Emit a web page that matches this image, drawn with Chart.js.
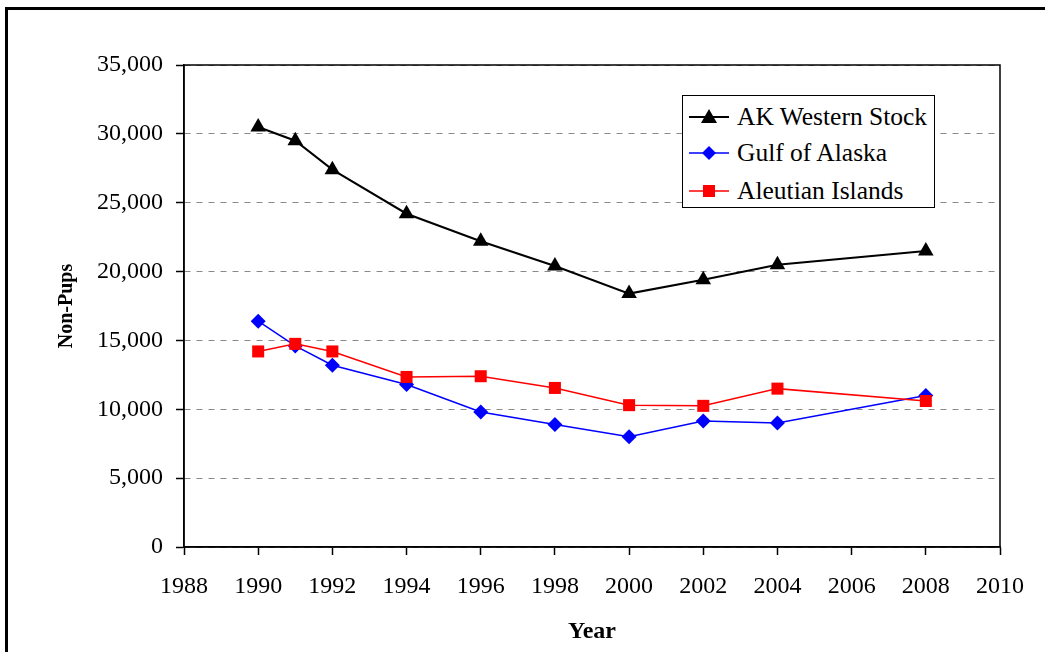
<!DOCTYPE html>
<html>
<head>
<meta charset="utf-8">
<script src="https://cdn.jsdelivr.net/npm/chart.js@4/dist/chart.umd.min.js"></script>
<style>
  html, body { margin: 0; padding: 0; background: #fff; }
  #wrap { position: relative; width: 1045px; height: 652px; overflow: hidden; }
  #frame { position: absolute; left: 5px; top: 7px; width: 1100px; height: 700px;
    border-left: 3px solid #000; border-top: 3px solid #000; }
  #chart { position: absolute; left: 0; top: 0; }
  #legend { position: absolute; left: 682px; top: 95px; width: 251px; height: 111px;
    border: 1.5px solid #000; background: #fff; font-family: "Liberation Serif", serif;
    font-size: 25.5px; color: #000; }
  .row { position: absolute; left: 6px; height: 30px; display: flex; align-items: center; }
  .row svg { margin-right: 8px; }
</style>
</head>
<body>
<div id="wrap">
  <div id="frame"></div>
  <canvas id="chart" width="1045" height="652"></canvas>
  <div id="legend">
    <div class="row" style="top:6px">
      <svg width="40" height="20"><line x1="0" y1="10" x2="40" y2="10" stroke="#000" stroke-width="2"/><polygon points="20,2 28,16 12,16" fill="#000"/></svg>AK Western Stock</div>
    <div class="row" style="top:42px">
      <svg width="40" height="20"><line x1="0" y1="10" x2="40" y2="10" stroke="#0000ff" stroke-width="1.5"/><polygon points="20,3 27,10 20,17 13,10" fill="#0000ff"/></svg>Gulf of Alaska</div>
    <div class="row" style="top:80px">
      <svg width="40" height="20"><line x1="0" y1="10" x2="40" y2="10" stroke="#ff0000" stroke-width="1.5"/><rect x="14" y="4" width="12" height="12" fill="#ff0000"/></svg>Aleutian Islands</div>
  </div>
</div>
<script>
const years = [1990, 1991, 1992, 1994, 1996, 1998, 2000, 2002, 2004, 2008]
const akWestern = [30500, 29500, 27400, 24200, 22200, 20400, 18400, 19400, 20500, 21500]
const gulfOfAlaska = [16400, 14600, 13200, 11800, 9800, 8900, 8000, 9150, 9000, 11000]
const aleutian = [14200, 14750, 14200, 12350, 12400, 11550, 10300, 10250, 11500, 10600]

const toPoints = (vals) => years.map((yr, i) => ({ x: yr, y: vals[i] }))

const serif = 'Liberation Serif'

// box around the plot area
const plotBox = {
    id: 'plotBox',
    afterDatasetsDraw(chart) {
        const a = chart.chartArea
        const ctx = chart.ctx
        ctx.save()
        ctx.strokeStyle = '#000'
        ctx.lineWidth = 1.5
        ctx.strokeRect(a.left, a.top, a.right - a.left, a.bottom - a.top)
        ctx.restore()
    }
}

new Chart(document.getElementById('chart').getContext('2d'), {
    type: 'line',
    plugins: [plotBox],
    data: {
        datasets: [{
                label: 'AK Western Stock',
                data: toPoints(akWestern),
                borderColor: '#000',
                backgroundColor: '#000',
                borderWidth: 2,
                pointStyle: 'triangle',
                pointRadius: 9,
                pointBorderWidth: 0,
                order: 0
            },
            {
                label: 'Aleutian Islands',
                data: toPoints(aleutian),
                borderColor: '#ff0000',
                backgroundColor: '#ff0000',
                borderWidth: 1.5,
                pointStyle: 'rect',
                pointRadius: 8.5,
                pointBorderWidth: 0,
                order: 1
            },
            {
                label: 'Gulf of Alaska',
                data: toPoints(gulfOfAlaska),
                borderColor: '#0000ff',
                backgroundColor: '#0000ff',
                borderWidth: 1.5,
                pointStyle: 'rectRot',
                pointRadius: 7.5,
                pointBorderWidth: 0,
                order: 2
            }
        ]
    },
    options: {
        responsive: false,
        animation: false,
        layout: { padding: { left: 0, top: 65, right: 45, bottom: 0 } },
        plugins: {
            legend: { display: false },
            tooltip: { enabled: false }
        },
        scales: {
            x: {
                type: 'linear',
                min: 1988,
                max: 2010,
                afterFit: (s) => { s.height = 105 },
                ticks: {
                    stepSize: 2,
                    color: '#000',
                    padding: 17,
                    maxRotation: 0,
                    font: { family: serif, size: 24 },
                    callback: (v) => String(v)
                },
                grid: {
                    drawOnChartArea: false,
                    tickLength: 8,
                    tickColor: '#000',
                    tickWidth: 1.5
                },
                border: { color: '#000', width: 1.5 },
                title: {
                    display: true,
                    text: 'Year',
                    color: '#000',
                    font: { family: serif, size: 24, weight: 'bold' },
                    padding: { top: 0, bottom: 6 }
                }
            },
            y: {
                min: 0,
                max: 35000,
                afterFit: (s) => { s.width = 184 },
                ticks: {
                    stepSize: 5000,
                    color: '#000',
                    padding: 13,
                    font: { family: serif, size: 24 },
                    callback: (v) => v.toLocaleString('en-US')
                },
                grid: {
                    color: '#8a8a8a',
                    lineWidth: 1,
                    tickLength: 8,
                    tickColor: '#000',
                    tickWidth: 1.5,
                    tickBorderDash: [10, 0]
                },
                border: { color: '#000', width: 1.5, dash: [6, 6] },
                title: {
                    display: true,
                    text: 'Non-Pups',
                    color: '#000',
                    font: { family: serif, size: 20, weight: 'bold' },
                    padding: { top: 55, bottom: 0 }
                }
            }
        }
    }
})
</script>
</body>
</html>
